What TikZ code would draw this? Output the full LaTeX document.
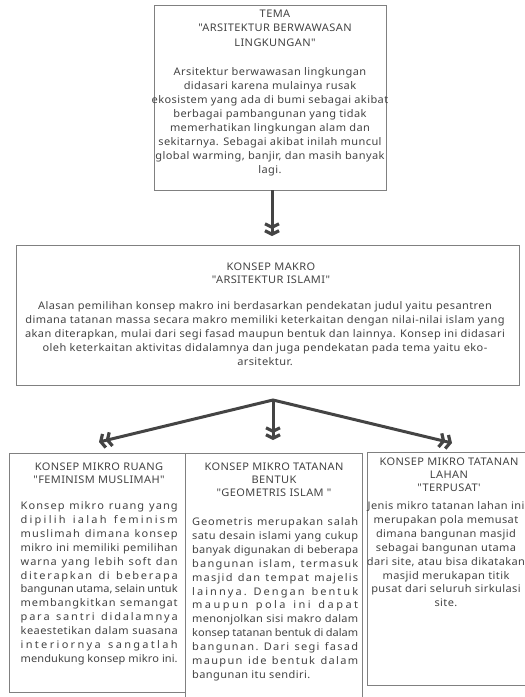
\documentclass[tikz,border=0pt]{standalone}
\usepackage{fontspec}
\setmainfont{Noto Sans}[FakeStretch=1.05, LetterSpace=3.8, Ligatures=TeXOff]
\usetikzlibrary{arrows.meta}
\definecolor{txtc}{HTML}{424242}
\definecolor{boxc}{HTML}{808080}
\definecolor{arrc}{HTML}{444444}
\newdimen\sprw
\def\sprA#1{\ifx#1\relax\else\ifx#1~\hskip 2.8pt plus 1fil minus 2.8pt\relax\else#1\hskip 0pt plus 1fil\relax\fi\expandafter\sprA\fi}
\newcommand\sprline[1]{\hbox to \sprw{\sprA#1\relax\unskip}}
\tikzset{dchev/.tip={Straight Barb[length=3.5pt,width=14pt,line width=3.2pt]Straight Barb[length=3.5pt,width=14pt,line width=3.2pt]}}
\begin{document}
\begin{tikzpicture}[x=1pt,y=-1pt,
  box/.style={draw=boxc, line width=0.9pt, inner sep=0pt},
  txt/.style={text=txtc, inner sep=0pt, align=center, font=\fontsize{10.5}{13.9}\selectfont},
  ttl/.style={txt, font=\fontsize{10.5}{13}\selectfont},
  jst/.style={txt, align=left},
  conn/.style={draw=arrc, line width=3pt}]
\useasboundingbox (0,0) rectangle (525,697);
% boxes
\node[box, minimum width=232pt, minimum height=185pt] (top) at (270,97.5) {};
\node[box, minimum width=503pt, minimum height=140pt] (macro) at (267.5,315) {};
\node[box, minimum width=176pt, minimum height=239pt] (left) at (97,572.5) {};
\node[box, minimum width=177pt, minimum height=247pt] (mid) at (273.5,576.5) {};
\node[box, minimum width=165pt, minimum height=233pt] (right) at (449.5,568.5) {};
% top texts (anchor base = baseline of last line)
\node[txt, font=\fontsize{10.5}{14.5}\selectfont, anchor=base] (topT) at (275,46) {TEMA\\"ARSITEKTUR BERWAWASAN\\LINGKUNGAN"};
\node[txt, anchor=base] (topP) at (270,173) {Arsitektur berwawasan lingkungan\\didasari karena mulainya rusak\\ekosistem yang ada di bumi sebagai akibat\\berbagai pambangunan yang tidak\\memerhatikan lingkungan alam dan\\sekitarnya. Sebagai akibat inilah muncul\\global warming, banjir, dan masih banyak\\lagi.};
% macro texts
\node[ttl, anchor=base] (macT) at (271,283) {KONSEP MAKRO\\"ARSITEKTUR ISLAMI"};
\node[txt, anchor=base] (macP) at (265,365) {Alasan pemilihan konsep makro ini berdasarkan pendekatan judul yaitu pesantren\\dimana tatanan massa secara makro memiliki keterkaitan dengan nilai-nilai islam yang\\akan diterapkan, mulai dari segi fasad maupun bentuk dan lainnya. Konsep ini didasari\\oleh keterkaitan aktivitas didalamnya dan juga pendekatan pada tema yaitu eko-\\arsitektur.};
% left texts
\node[ttl, anchor=base] (leftT) at (99,483) {KONSEP MIKRO RUANG\\"FEMINISM MUSLIMAH"};
\sprw=157pt
\node[jst, anchor=base west] (leftP) at (20.5,662.4) {\sprline{Konsep~mikro~ruang~yang}\\\sprline{dipilih~ialah~feminism}\\\sprline{muslimah~dimana~konsep}\\\sprline{mikro~ini~memiliki~pemilihan}\\\sprline{warna~yang~lebih~soft~dan}\\\sprline{diterapkan~di~beberapa}\\\sprline{bangunan~utama,~selain~untuk}\\\sprline{membangkitkan~semangat}\\\sprline{para~santri~didalamnya}\\\sprline{keaestetikan~dalam~suasana}\\\sprline{interiornya~sangatlah}\\\sprline{mendukung~konsep~mikro~ini.}};
% middle texts
\node[ttl, anchor=base] (midT) at (274,496) {KONSEP MIKRO TATANAN\\BENTUK\\"GEOMETRIS ISLAM "};
\sprw=166pt
\node[jst, anchor=base west] (midP) at (192,678.4) {\sprline{Geometris~merupakan~salah}\\\sprline{satu~desain~islami~yang~cukup}\\\sprline{banyak~digunakan~di~beberapa}\\\sprline{bangunan~islam,~termasuk}\\\sprline{masjid~dan~tempat~majelis}\\\sprline{lainnya.~Dengan~bentuk}\\\sprline{maupun~pola~ini~dapat}\\\sprline{menonjolkan~sisi~makro~dalam}\\\sprline{konsep~tatanan~bentuk~di~dalam}\\\sprline{bangunan.~Dari~segi~fasad}\\\sprline{maupun~ide~bentuk~dalam}\\bangunan itu sendiri.};
% right texts
\node[ttl, anchor=base] (rightT) at (449,491) {KONSEP MIKRO TATANAN\\LAHAN\\"TERPUSAT'};
\node[txt, anchor=base] (rightP) at (446,606.8) {Jenis mikro tatanan lahan ini\\merupakan pola memusat\\dimana bangunan masjid\\sebagai bangunan utama\\dari site, atau bisa dikatakan\\masjid merukapan titik\\pusat dari seluruh sirkulasi\\site.};
% connectors
\coordinate (tipM) at (272,236);
\coordinate (apex) at (273,400);
\coordinate (tipL) at (99,442);
\coordinate (tipC) at (273,440);
\coordinate (tipR) at (452,443);
\draw[conn, -{dchev}] (top.south -| tipM) -- (tipM);
\draw[conn, {dchev}-{dchev}] (tipL) -- (apex) -- (tipR);
\draw[conn, -{dchev}] (apex) -- (tipC);
\end{tikzpicture}
\end{document}
